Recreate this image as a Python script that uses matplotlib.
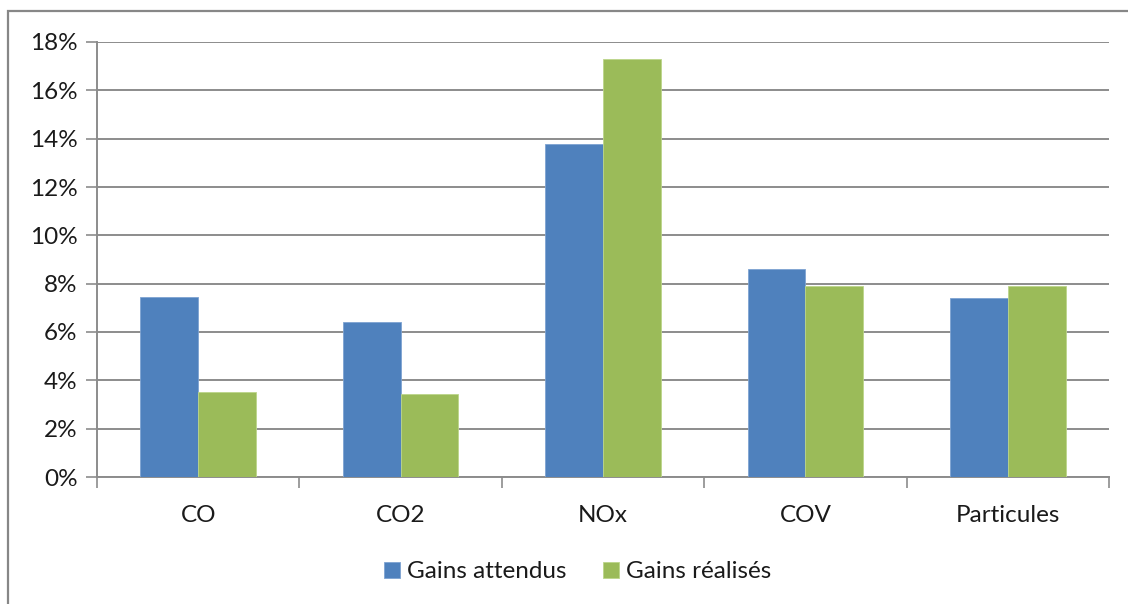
import matplotlib.pyplot as plt
import numpy as np
from matplotlib.patches import Rectangle
from matplotlib.ticker import FuncFormatter

categories = ['CO', 'CO2', 'NOx', 'COV', 'Particules']
gains_attendus = [7.46, 6.41, 13.78, 8.6, 7.42]
gains_realises = [3.5, 3.45, 17.28, 7.91, 7.91]
series_names = ['Gains attendus', 'Gains réalisés']

plt.rcParams['font.family'] = ['Lato', 'DejaVu Sans']

W, H = 1128, 604
fig = plt.figure(figsize=(W / 100, H / 100), dpi=100)
fig.patch.set_facecolor('white')

# cadre gris du graphique (coupé à droite et en bas)
fig.patches.append(Rectangle((8 / W, -0.2), 1.5, 1.2 - 11 / H, transform=fig.transFigure,
                             fill=False, edgecolor='#878787', linewidth=1.6, clip_on=False))

ax = fig.add_axes([97 / W, 1 - 477 / H, (1109 - 97) / W, (477 - 42) / H])

x = np.arange(len(categories))
w = 1 / 3.5
ax.bar(x - w / 2, gains_attendus, w, color='#4f81bd', edgecolor='#7ea3d2', linewidth=0.6,
       label=series_names[0], zorder=3)
ax.bar(x + w / 2, gains_realises, w, color='#9bbb59', edgecolor='#bcd68a', linewidth=0.6,
       label=series_names[1], zorder=3)

ax.set_xlim(-0.5, len(categories) - 0.5)
ax.set_ylim(0, 18)
ax.set_yticks(np.arange(0, 19, 2))
ax.yaxis.set_major_formatter(FuncFormatter(lambda v, p: f'{v:.0f}%'))
ax.yaxis.grid(True, color='#8c8c8c', linewidth=1.4, zorder=0)
ax.set_axisbelow(True)

fs = 17.5
ax.set_xticks(x)
ax.set_xticklabels(categories)
ax.set_xticks(np.arange(-0.5, len(categories)), minor=True)
ax.tick_params(axis='x', which='major', length=0, pad=20, labelsize=fs, labelcolor='#1a1a1a')
ax.tick_params(axis='x', which='minor', length=8, width=1.2, color='#8c8c8c')
ax.tick_params(axis='y', length=8, width=1.2, color='#8c8c8c', labelsize=fs, pad=6,
               labelcolor='#1a1a1a')

for s in ['top', 'right']:
    ax.spines[s].set_visible(False)
for s in ['left', 'bottom']:
    ax.spines[s].set_color('#8c8c8c')
    ax.spines[s].set_linewidth(1.4)

leg = ax.legend(loc='center', bbox_to_anchor=(0.475, (1 - 572 / H - (1 - 477 / H)) / ((477 - 42) / H)),
                ncol=2, frameon=False, fontsize=fs, handlelength=0.66, handleheight=0.66,
                handletextpad=0.3, columnspacing=1.5)
for t in leg.get_texts():
    t.set_color('#1a1a1a')

fig.savefig('out.png', dpi=100, facecolor='white')
